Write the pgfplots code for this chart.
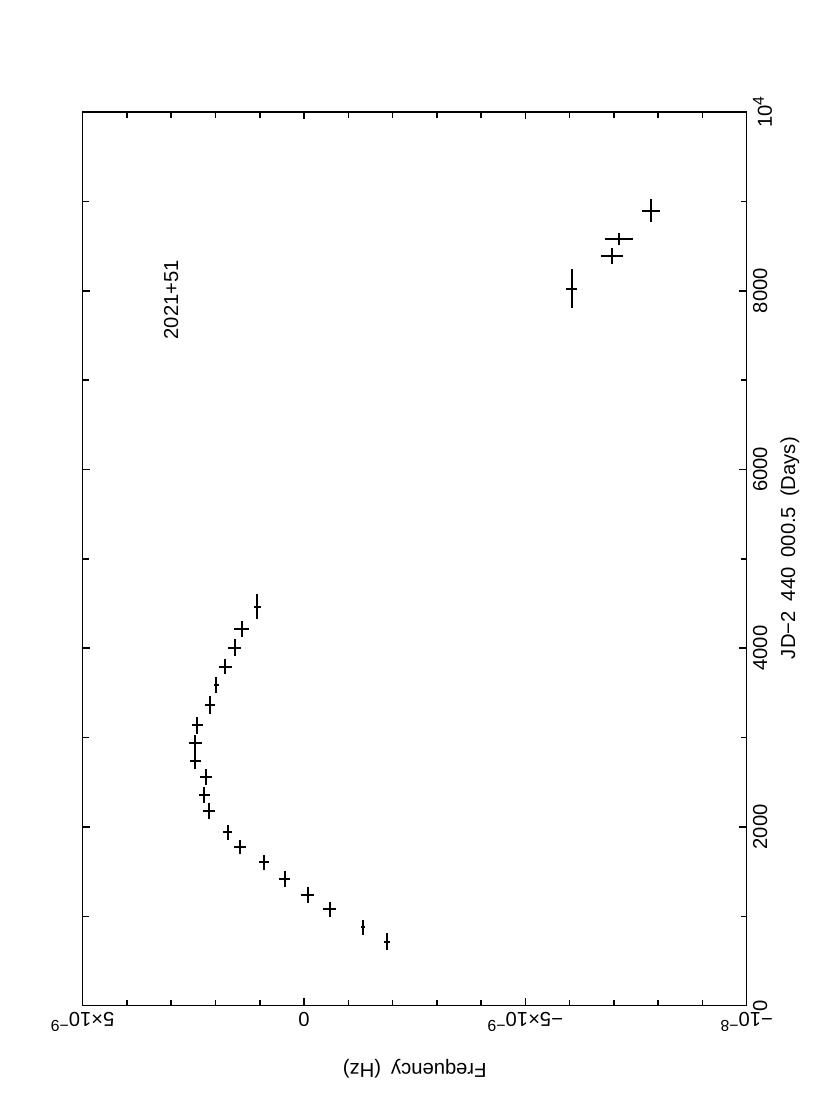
\documentclass[border=0pt]{standalone}
\usepackage{fontspec}
\setmainfont{Liberation Sans}
\usepackage{pgfplots}
\usepackage{pgfplotstable}
\pgfplotsset{compat=1.18}

\newcommand{\sps}[1]{\raisebox{0.75ex}{\fontsize{9}{10}\selectfont #1}}

% frequency in units of 1e-9 Hz
\pgfplotstableread{
jd    f       ex    ey
716   -1.874  93    0.072
877   -1.332  87    0.045
1079  -0.578  86    0.142
1242  -0.081  90    0.147
1418  0.438   90    0.120
1605  0.903   84    0.113
1773  1.445   78    0.131
1940  1.725   84    0.108
2179  2.153   90    0.131
2358  2.251   90    0.131
2556  2.212   90    0.142
2742  2.461   93    0.124
2936  2.454   98    0.142
3138  2.415   97    0.124
3365  2.122   104   0.108
3589  1.986   86    0.056
3793  1.777   86    0.142
4006  1.567   93    0.142
4212  1.409   87    0.169
4465  1.054   140   0.075
8023  -6.050  218   0.124
8389  -6.959  90    0.248
8579  -7.117  62    0.320
8896  -7.833  129   0.203
}\freqdata

\begin{document}
\begin{tikzpicture}
\begin{scope}[rotate=90, transform shape]
\begin{axis}[
    at={(0,0)}, anchor=south west,
    scale only axis,
    width=17.874cm, height=13.28cm,
    xmin=0, xmax=10000,
    ymin=-10, ymax=5,
    xtick={0,2000,4000,6000,8000,10000},
    xticklabels={0,2000,4000,6000,8000,10\sps{4}},
    minor x tick num=1,
    ytick={-10,-5,0,5},
    yticklabels={−10\sps{−8},−5×10\sps{−9},0,5×10\sps{−9}},
    minor y tick num=4,
    scaled ticks=false,
    tick align=inside,
    major tick length=0.15cm,
    minor tick length=0.12cm,
    axis line style={line width=0.9pt},
    every tick/.style={black, line width=0.9pt},
    font=\fontsize{11.5}{13.5}\selectfont,
    yticklabel style={rotate=90, anchor=south},
    xlabel={JD−2\enspace 440\enspace 000.5\enspace (Days)},
    ylabel={Frequency\enspace (Hz)},
    xlabel style={at={(axis description cs:0.512,-0.065)}, anchor=center},
    ylabel style={at={(axis description cs:-0.0705,0.5)}, anchor=center},
]
\addplot[draw=none, mark=none,
    error bars/.cd, x dir=both, x explicit, y dir=both, y explicit,
    error mark=none, error bar style={draw=black, solid, line width=1.1pt}]
    table[x=jd, y=f, x error=ex, y error=ey] {\freqdata};
\node at (axis cs:7900,3.0) {2021+51};
\end{axis}
\end{scope}
\pgfresetboundingbox
\useasboundingbox (-14.934,-2.226) rectangle (1.666,20.114);
\end{tikzpicture}
\end{document}
